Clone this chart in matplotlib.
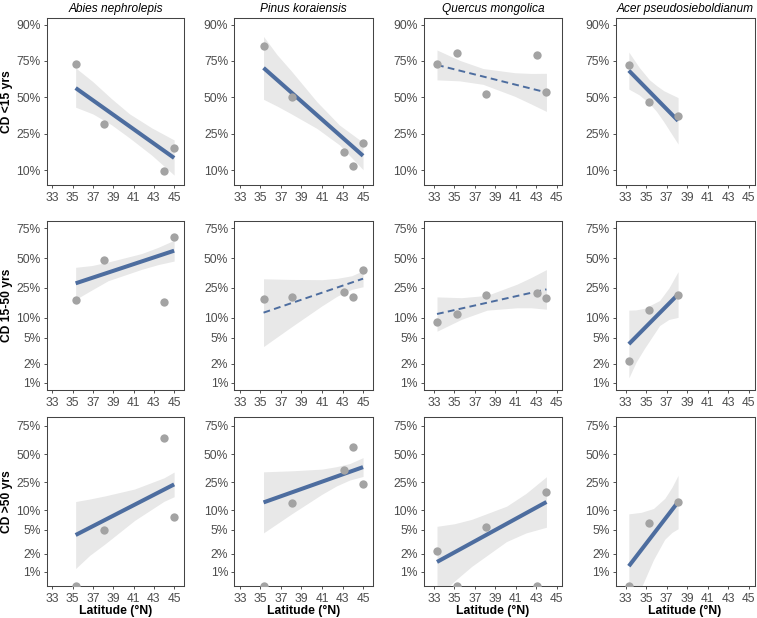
import matplotlib
matplotlib.use("Agg")
import matplotlib.pyplot as plt
from matplotlib.ticker import FixedLocator, NullLocator

plt.rcParams["font.family"] = ["Liberation Sans", "DejaVu Sans"]

species = ["Abies nephrolepis", "Pinus koraiensis", "Quercus mongolica", "Acer pseudosieboldianum"]
age_classes = ["CD <15 yrs", "CD 15-50 yrs", "CD >50 yrs"]

# site latitudes per species
lat_abies = [35.3, 38.1, 44.0, 45.0]
lat_pinus = [35.3, 38.1, 43.1, 44.0, 45.0]
lat_quercus = [33.3, 35.3, 38.1, 43.1, 44.0]
lat_acer = [33.3, 35.3, 38.1]
lats = [lat_abies, lat_pinus, lat_quercus, lat_acer]

# observed shares (%) ; 0 means none -> drawn on the panel floor
obs_lt15 = [[73.5, 31, 9.7, 18], [82.5, 50.5, 16, 11.2, 20],
            [73.5, 79.5, 52.3, 78, 54.2], [72.8, 46.5, 36.5]]
obs_15_50 = [[17.6, 48, 16.4, 68.4], [18.4, 19, 22.1, 19.5, 38.9],
             [8.8, 11.3, 20.5, 21.8, 18.5], [2.24, 12.7, 20.2]]
obs_gt50 = [[0, 4.9, 65.3, 7.9], [0, 12.8, 35, 57, 23.8],
            [2.23, 0, 5.5, 0, 18.7], [0, 6.4, 13.6]]

# fitted share (%) at the lowest and highest latitude of each species
fit_lt15 = [[57.0, 13.8], [70.9, 14.6], [72.7, 53.7], [69.2, 33.0]]
fit_15_50 = [[28.3, 56.8], [11.8, 31.9], [11.3, 24.0], [4.03, 20.8]]
fit_gt50 = [[4.09, 23.5], [13.2, 37.6], [1.47, 13.4], [1.25, 13.4]]

# significant trend -> solid, otherwise dashed
signif = [[True, True, False, True],
          [True, False, False, True],
          [True, True, True, True]]

# confidence band (%), read at a few latitudes per panel
band_x = [
    [[35.3, 37.0, 38.8, 40.6, 42.8, 45.0], [35.3, 36.6, 38.0, 40.5, 42.7, 45.0],
     [33.3, 35.5, 37.8, 40.9, 42.5, 44.0], [33.3, 34.3, 35.3, 36.0, 36.7, 38.1]],
    [[35.3, 36.9, 38.5, 41.8, 43.4, 45.0], [35.3, 38.0, 41.0, 42.5, 43.9, 45.0],
     [33.3, 35.7, 38.2, 41.1, 42.5, 44.0], [33.3, 34.0, 34.8, 36.3, 37.2, 38.1]],
    [[35.3, 36.7, 38.2, 41.1, 44.0, 45.0], [35.3, 38.1, 41.0, 42.4, 43.7, 45.0],
     [33.3, 35.0, 36.7, 40.1, 42.0, 44.0], [33.3, 34.5, 35.7, 36.8, 37.5, 38.1]],
]
band_hi = [
    [[70.9, 61.6, 49.2, 37.8, 28.4, 21.6], [86.3, 78.5, 69.0, 46.7, 30.2, 20.4],
     [80.7, 75.4, 70.5, 67.8, 67.3, 67.4], [79.7, 71.3, 63.0, 58.8, 55.0, 49.8]],
    [[41.6, 43.2, 46.4, 54.2, 59.7, 65.9], [31.8, 31.3, 31.1, 32.2, 34.3, 38.6],
     [19.3, 18.85, 20.2, 27.6, 32.8, 39.6], [12.8, 12.9, 13.55, 17.3, 24.9, 37.8]],
    [[13.6, 14.8, 16.4, 20.4, 28.4, 33.2], [33.4, 34.3, 35.8, 38.0, 40.9, 46.6],
     [5.65, 6.2, 7.29, 11.6, 17.75, 29.3], [8.87, 9.36, 10.7, 15.1, 21.5, 30.4]],
]
band_lo = [
    [[42.6, 37.7, 30.5, 22.7, 14.8, 8.7], [48.5, 43.5, 37.8, 28.1, 19.2, 10.1],
     [62.9, 62.2, 59.7, 50.8, 45.0, 39.5], [56.2, 51.9, 45.5, 39.5, 32.4, 19.6]],
    [[17.9, 23.6, 30.3, 39.8, 44.0, 47.3], [3.69, 7.31, 14.7, 19.8, 24.0, 25.8],
     [6.32, 9.48, 12.8, 13.8, 13.8, 13.2], [1.19, 2.1, 3.41, 7.68, 9.43, 10.1]],
    [[1.14, 1.9, 2.93, 6.99, 13.7, 15.96], [4.43, 8.99, 17.3, 22.4, 26.7, 29.5],
     [0.37, 0.7, 1.24, 3.20, 4.42, 5.46], [0.164, 0.537, 1.60, 3.48, 4.5, 5.17]],
]

obs = [obs_lt15, obs_15_50, obs_gt50]
fits = [fit_lt15, fit_15_50, fit_gt50]

yticks_top = [10, 25, 50, 75, 90]
yticks_low = [1, 2, 5, 10, 25, 50, 75]
xticks = [33, 35, 37, 39, 41, 43, 45]

# layout in pixels of the 757x618 canvas
W, H = 757, 618
col_l = [46.7, 234.3, 423.7, 615.5]
col_r = [184.3, 373.3, 562.3, 754.5]
row_t = [18.3, 220.7, 417.3]
row_b = [185.0, 390.0, 586.0]
xlims = [(32.45, 46.0), (32.45, 46.0), (32.0, 45.55), (32.0, 45.55)]
ylims = [(0.066, 0.916), (0.00766, 0.799), (0.0058, 0.808)]

line_col = "#4d6d9f"
band_col = "#e8e8e8"
pt_col = "#a3a3a3"
txt_col = "#4d4d4d"

fig = plt.figure(figsize=(W / 100, H / 100), dpi=100)

for r in range(3):
    for c in range(4):
        rect = [col_l[c] / W, 1 - row_b[r] / H,
                (col_r[c] - col_l[c]) / W, (row_b[r] - row_t[r]) / H]
        ax = fig.add_axes(rect)
        ax.set_yscale("logit")
        ax.set_xlim(*xlims[c])
        ax.set_ylim(*ylims[r])

        bx = band_x[r][c]
        ax.fill_between(bx, [v / 100 for v in band_lo[r][c]],
                        [v / 100 for v in band_hi[r][c]],
                        color=band_col, lw=0, zorder=1)

        x = lats[c]
        fx = [min(x), max(x)]
        fy = [v / 100 for v in fits[r][c]]
        if signif[r][c]:
            ax.plot(fx, fy, color=line_col, lw=2.9, solid_capstyle="butt", zorder=2)
        else:
            ax.plot(fx, fy, color=line_col, lw=1.4, ls=(0, (3.5, 2.2)), zorder=2)

        floor = ylims[r][0]
        y = [v / 100 if v > 0 else floor for v in obs[r][c]]
        ax.scatter(x, y, s=36, color=pt_col, lw=0, zorder=3, clip_on=True)

        ticks = yticks_top if r == 0 else yticks_low
        ax.yaxis.set_major_locator(FixedLocator([t / 100 for t in ticks]))
        ax.yaxis.set_minor_locator(NullLocator())
        ax.set_yticklabels([f"{t}%" for t in ticks])
        ax.set_xticks(xticks)
        ax.set_xticklabels([str(t) for t in xticks])

        ax.tick_params(axis="both", direction="out", length=2.4, width=0.6,
                       color="#333333", labelcolor=txt_col, labelsize=8.7)
        ax.tick_params(axis="x", pad=2.3)
        ax.tick_params(axis="y", pad=2.0)
        for sp in ax.spines.values():
            sp.set_color("#444444")
            sp.set_linewidth(0.75)

        if r == 0:
            ax.set_title(species[c], style="italic", fontsize=8.6, pad=4.8)
        if c == 0:
            fig.text(7 / W, 1 - (row_t[r] + row_b[r]) / 2 / H, age_classes[r],
                     rotation=90, ha="center", va="center",
                     fontsize=8.7, fontweight="bold")
        if r == 2:
            fig.text((col_l[c] + col_r[c]) / 2 / W, 1 - 610.7 / H, "Latitude (°N)",
                     ha="center", va="center", fontsize=8.8, fontweight="bold")

fig.savefig("out.png", dpi=100)
